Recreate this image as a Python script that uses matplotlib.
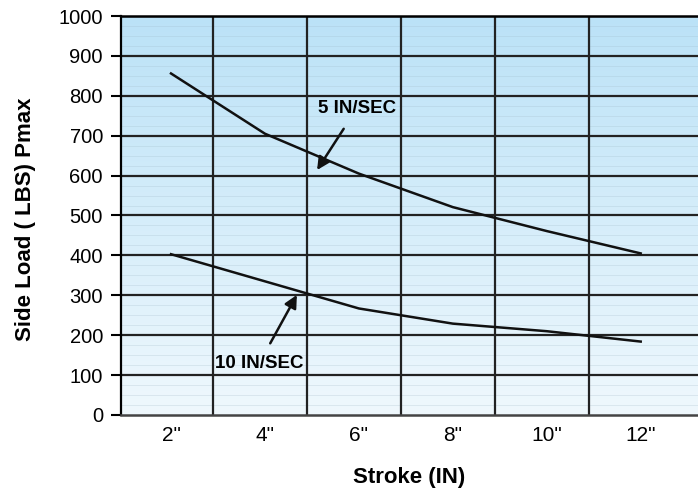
import numpy as np
import matplotlib.pyplot as plt
from matplotlib.colors import LinearSegmentedColormap

plt.rcParams['font.family'] = ['Liberation Sans', 'DejaVu Sans']

strokes = ['2"', '4"', '6"', '8"', '10"', '12"']
load_5 = [856, 705, 605, 521, 461, 405]
load_10 = [403, 335, 267, 229, 210, 184]
y_ticks = [0, 100, 200, 300, 400, 500, 600, 700, 800, 900, 1000]

x = np.arange(len(strokes))

fig = plt.figure(figsize=(6.98, 4.91), dpi=100)
ax = fig.add_axes([0.1734, 0.1548, 0.8266, 0.8126])

# gradient background
cmap = LinearSegmentedColormap.from_list("bg", ["#eff8fd", "#bbe2f7"])
grad = np.linspace(0, 1, 256).reshape(-1, 1)
ax.imshow(grad, cmap=cmap, aspect="auto", extent=[0, 1, 0, 1],
          transform=ax.transAxes, origin="lower", zorder=0)

ax.set_xlim(-0.532, 5.61)
ax.set_ylim(0, 1000)

# faint minor lines
for v in np.arange(0, 1000, 25):
    if v % 100:
        ax.axhline(v, color="#9fb8c6", lw=0.5, alpha=0.35, zorder=1)

for v in y_ticks[1:]:
    ax.axhline(v, color="#222222", lw=1.6, zorder=2)
for k in range(5):
    ax.axvline(k + 0.45, color="#222222", lw=1.6, zorder=2)

ax.plot(x, load_5, color="#111111", lw=1.8, zorder=3)
ax.plot(x, load_10, color="#111111", lw=1.8, zorder=3)

ax.annotate("5 IN/SEC", xy=(1.555, 614), xytext=(1.98, 769),
            ha="center", va="center", fontsize=13.5, fontweight="bold",
            arrowprops=dict(arrowstyle="-|>", color="#111111", lw=1.8,
                            mutation_scale=19, shrinkA=8, shrinkB=0), zorder=4)
ax.annotate("10 IN/SEC", xy=(1.34, 301), xytext=(0.94, 130),
            ha="center", va="center", fontsize=13.5, fontweight="bold",
            arrowprops=dict(arrowstyle="-|>", color="#111111", lw=1.8,
                            mutation_scale=19, shrinkA=7, shrinkB=0), zorder=4)

ax.set_xticks(x)
ax.set_xticklabels(strokes, fontsize=15)
ax.set_yticks(y_ticks)
ax.set_yticklabels([str(v) for v in y_ticks], fontsize=14.5)
ax.tick_params(axis="x", length=0, pad=8)
ax.tick_params(axis="y", length=7, width=1.5, direction="out", pad=6)

ax.spines["right"].set_visible(False)
ax.spines["top"].set_linewidth(1.8)
ax.spines["left"].set_linewidth(1.6)
ax.spines["bottom"].set_linewidth(1.8)
ax.spines["bottom"].set_color("#444444")

ax.set_xlabel("Stroke (IN)", fontsize=16, fontweight="bold", labelpad=16)
ax.set_ylabel("Side Load ( LBS) Pmax", fontsize=16, fontweight="bold")
ax.yaxis.set_label_coords(-0.148, 0.49)

fig.savefig("out.png", dpi=100)
